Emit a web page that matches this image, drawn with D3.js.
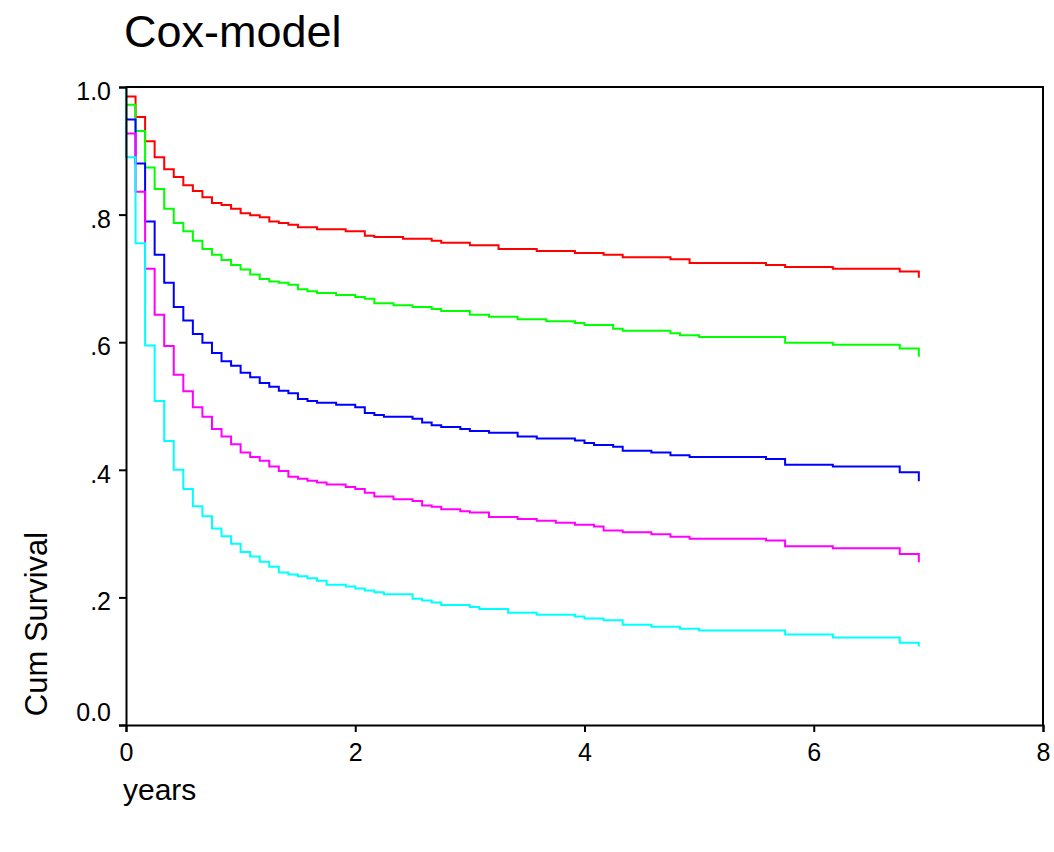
<!DOCTYPE html>
<html>
<head>
<meta charset="utf-8">
<script src="https://cdn.jsdelivr.net/npm/d3@7"></script>
<style>
  body { margin: 0; background: #fff; }
  svg text { font-family: Arial, "Liberation Sans", sans-serif; fill: #000; }
</style>
</head>
<body>
<svg id="chart" width="1054" height="852"></svg>
<script>
'use strict';

/* global d3, document */

// step points: [month, cumulative survival]
var redSteps = [[0, 1.0], [0, 0.985], [1, 0.953], [2, 0.915], [3, 0.890], [4, 0.871], [5, 0.859],
    [6, 0.846], [7, 0.837], [8, 0.827], [9, 0.818], [10, 0.815], [11, 0.809], [12, 0.802],
    [13, 0.799], [14, 0.796], [15, 0.789], [16, 0.787], [17, 0.784], [18, 0.780], [20, 0.777],
    [23, 0.774], [25, 0.767], [26, 0.765], [29, 0.762], [32, 0.759], [33, 0.756], [36, 0.752],
    [39, 0.746], [43, 0.743], [47, 0.740], [50, 0.737], [52, 0.733], [57, 0.730], [59, 0.724],
    [67, 0.721], [69, 0.718], [74, 0.715], [81, 0.711], [83, 0.701]];

var greenSteps = [[0, 1.0], [0, 0.972], [1, 0.931], [2, 0.874], [3, 0.840], [4, 0.809], [5, 0.787],
    [6, 0.774], [7, 0.759], [8, 0.746], [9, 0.737], [10, 0.729], [11, 0.721], [12, 0.714],
    [13, 0.706], [14, 0.699], [15, 0.695], [16, 0.693], [17, 0.690], [18, 0.683], [19, 0.680],
    [20, 0.677], [22, 0.674], [24, 0.671], [25, 0.668], [26, 0.661], [28, 0.658], [30, 0.655],
    [32, 0.652], [33, 0.649], [36, 0.643], [38, 0.640], [41, 0.636], [44, 0.633], [47, 0.630],
    [48, 0.627], [51, 0.621], [52, 0.618], [57, 0.614], [58, 0.611], [60, 0.608], [69, 0.599],
    [74, 0.596], [81, 0.590], [83, 0.577]];

var blueSteps = [[0, 1.0], [0, 0.949], [1, 0.880], [2, 0.789], [3, 0.737], [4, 0.693], [5, 0.655],
    [6, 0.634], [7, 0.613], [8, 0.599], [9, 0.583], [10, 0.570], [11, 0.563], [12, 0.552],
    [13, 0.545], [14, 0.536], [15, 0.530], [16, 0.524], [17, 0.520], [18, 0.511], [19, 0.508],
    [20, 0.505], [22, 0.502], [24, 0.498], [25, 0.489], [26, 0.486], [27, 0.483], [30, 0.480],
    [31, 0.474], [32, 0.470], [33, 0.467], [35, 0.464], [36, 0.461], [38, 0.458], [41, 0.452],
    [43, 0.449], [47, 0.446], [48, 0.442], [49, 0.439], [51, 0.436], [52, 0.430], [55, 0.427],
    [57, 0.423], [59, 0.420], [67, 0.417], [69, 0.408], [74, 0.405], [81, 0.396], [83, 0.382]];

var magentaSteps = [[0, 1.0], [0, 0.927], [1, 0.836], [2, 0.715], [3, 0.643], [4, 0.594], [5, 0.549],
    [6, 0.523], [7, 0.498], [8, 0.483], [9, 0.464], [10, 0.452], [11, 0.440], [12, 0.427],
    [13, 0.420], [14, 0.414], [15, 0.405], [16, 0.398], [17, 0.389], [18, 0.386], [19, 0.383],
    [20, 0.380], [21, 0.377], [23, 0.373], [24, 0.370], [25, 0.364], [26, 0.358], [28, 0.354],
    [30, 0.351], [31, 0.344], [32, 0.342], [33, 0.338], [35, 0.335], [36, 0.333], [38, 0.326],
    [41, 0.323], [43, 0.320], [45, 0.317], [47, 0.314], [49, 0.311], [50, 0.305], [52, 0.302],
    [55, 0.299], [57, 0.295], [59, 0.292], [67, 0.289], [69, 0.280], [74, 0.277], [81, 0.268],
    [83, 0.255]];

var cyanSteps = [[0, 1.0], [0, 0.890], [1, 0.755], [2, 0.595], [3, 0.508], [4, 0.445], [5, 0.400],
    [6, 0.370], [7, 0.343], [8, 0.327], [9, 0.308], [10, 0.296], [11, 0.284], [12, 0.271],
    [13, 0.264], [14, 0.256], [15, 0.248], [16, 0.239], [17, 0.236], [18, 0.233], [19, 0.230],
    [20, 0.226], [21, 0.220], [23, 0.217], [24, 0.214], [25, 0.211], [26, 0.208], [27, 0.205],
    [30, 0.198], [31, 0.195], [32, 0.192], [33, 0.188], [36, 0.185], [37, 0.182], [40, 0.176],
    [43, 0.173], [47, 0.170], [48, 0.167], [50, 0.164], [52, 0.157], [55, 0.154], [58, 0.151],
    [60, 0.148], [69, 0.142], [74, 0.137], [81, 0.129], [83, 0.123]];

var seriesColors = ['#ff0000', '#00ff00', '#0000ff', '#ff00ff', '#00ffff'];
var yTicks = [0, 0.2, 0.4, 0.6, 0.8, 1.0];
var yTickLabels = ['0.0', '.2', '.4', '.6', '.8', '1.0'];
var xTicks = [0, 2, 4, 6, 8];

var chart = {
    svg: d3.select('#chart'),
    left: 126,
    right: 1043,
    top: 87,
    bottom: 725,

    init: function () {
        this.x = d3.scaleLinear().domain([0, 8]).range([this.left, this.right]);
        this.y = d3.scaleLinear().domain([0, 1]).range([this.bottom, this.top]);
        this.drawCurves();
        this.drawFrame();
        this.drawAxes();
        this.drawTexts();
    },

    drawCurves: function () {
        var x = this.x, y = this.y;
        var line = d3.line()
            .x(function (d) { return x(d[0] / 12); })
            .y(function (d) { return y(d[1]); })
            .curve(d3.curveStepAfter);

        var all = [redSteps, greenSteps, blueSteps, magentaSteps, cyanSteps];
        this.svg.append('g').selectAll('path')
            .data(all)
            .join('path')
            .attr('d', line)
            .attr('fill', 'none')
            .attr('stroke', function (d, i) { return seriesColors[i]; })
            .attr('stroke-width', 2);
    },

    drawFrame: function () {
        // top and right edges of the plot box
        this.svg.append('path')
            .attr('d', 'M' + this.left + ',' + this.top + 'H' + this.right + 'V' + this.bottom)
            .attr('fill', 'none')
            .attr('stroke', '#000')
            .attr('stroke-width', 2);
    },

    drawAxes: function () {
        var yAxis = d3.axisLeft(this.y)
            .tickValues(yTicks)
            .tickFormat(function (d, i) { return yTickLabels[i]; })
            .tickSize(7)
            .tickPadding(8);
        var gy = this.svg.append('g')
            .attr('transform', 'translate(' + this.left + ',0)')
            .call(yAxis);

        var xAxis = d3.axisBottom(this.x)
            .tickValues(xTicks)
            .tickFormat(d3.format('d'))
            .tickSize(7)
            .tickPadding(11);
        var gx = this.svg.append('g')
            .attr('transform', 'translate(0,' + this.bottom + ')')
            .call(xAxis);

        [gx, gy].forEach(function (g) {
            g.select('.domain').attr('stroke', '#000').attr('stroke-width', 2);
            g.selectAll('.tick line').attr('stroke', '#000').attr('stroke-width', 2);
            g.selectAll('.tick text')
                .attr('font-family', 'Arial, "Liberation Sans", sans-serif')
                .attr('font-size', 25)
                .attr('fill', '#000');
        });

        // labels sit a little below their ticks, 0.0 sits above the x axis
        gy.selectAll('.tick text').attr('dy', function (d) {
            return d === 0 ? '-0.2em' : '0.5em';
        });
    },

    drawTexts: function () {
        this.svg.append('text')
            .attr('x', 124)
            .attr('y', 47)
            .attr('font-size', 45)
            .text('Cox-model');

        this.svg.append('text')
            .attr('x', 123)
            .attr('y', 800)
            .attr('font-size', 30)
            .text('years');

        this.svg.append('text')
            .attr('transform', 'translate(47,624) rotate(-90)')
            .attr('text-anchor', 'middle')
            .attr('font-size', 31)
            .text('Cum Survival');
    }
};

window.addEventListener('load', function () {
    chart.init();
});
</script>
</body>
</html>
